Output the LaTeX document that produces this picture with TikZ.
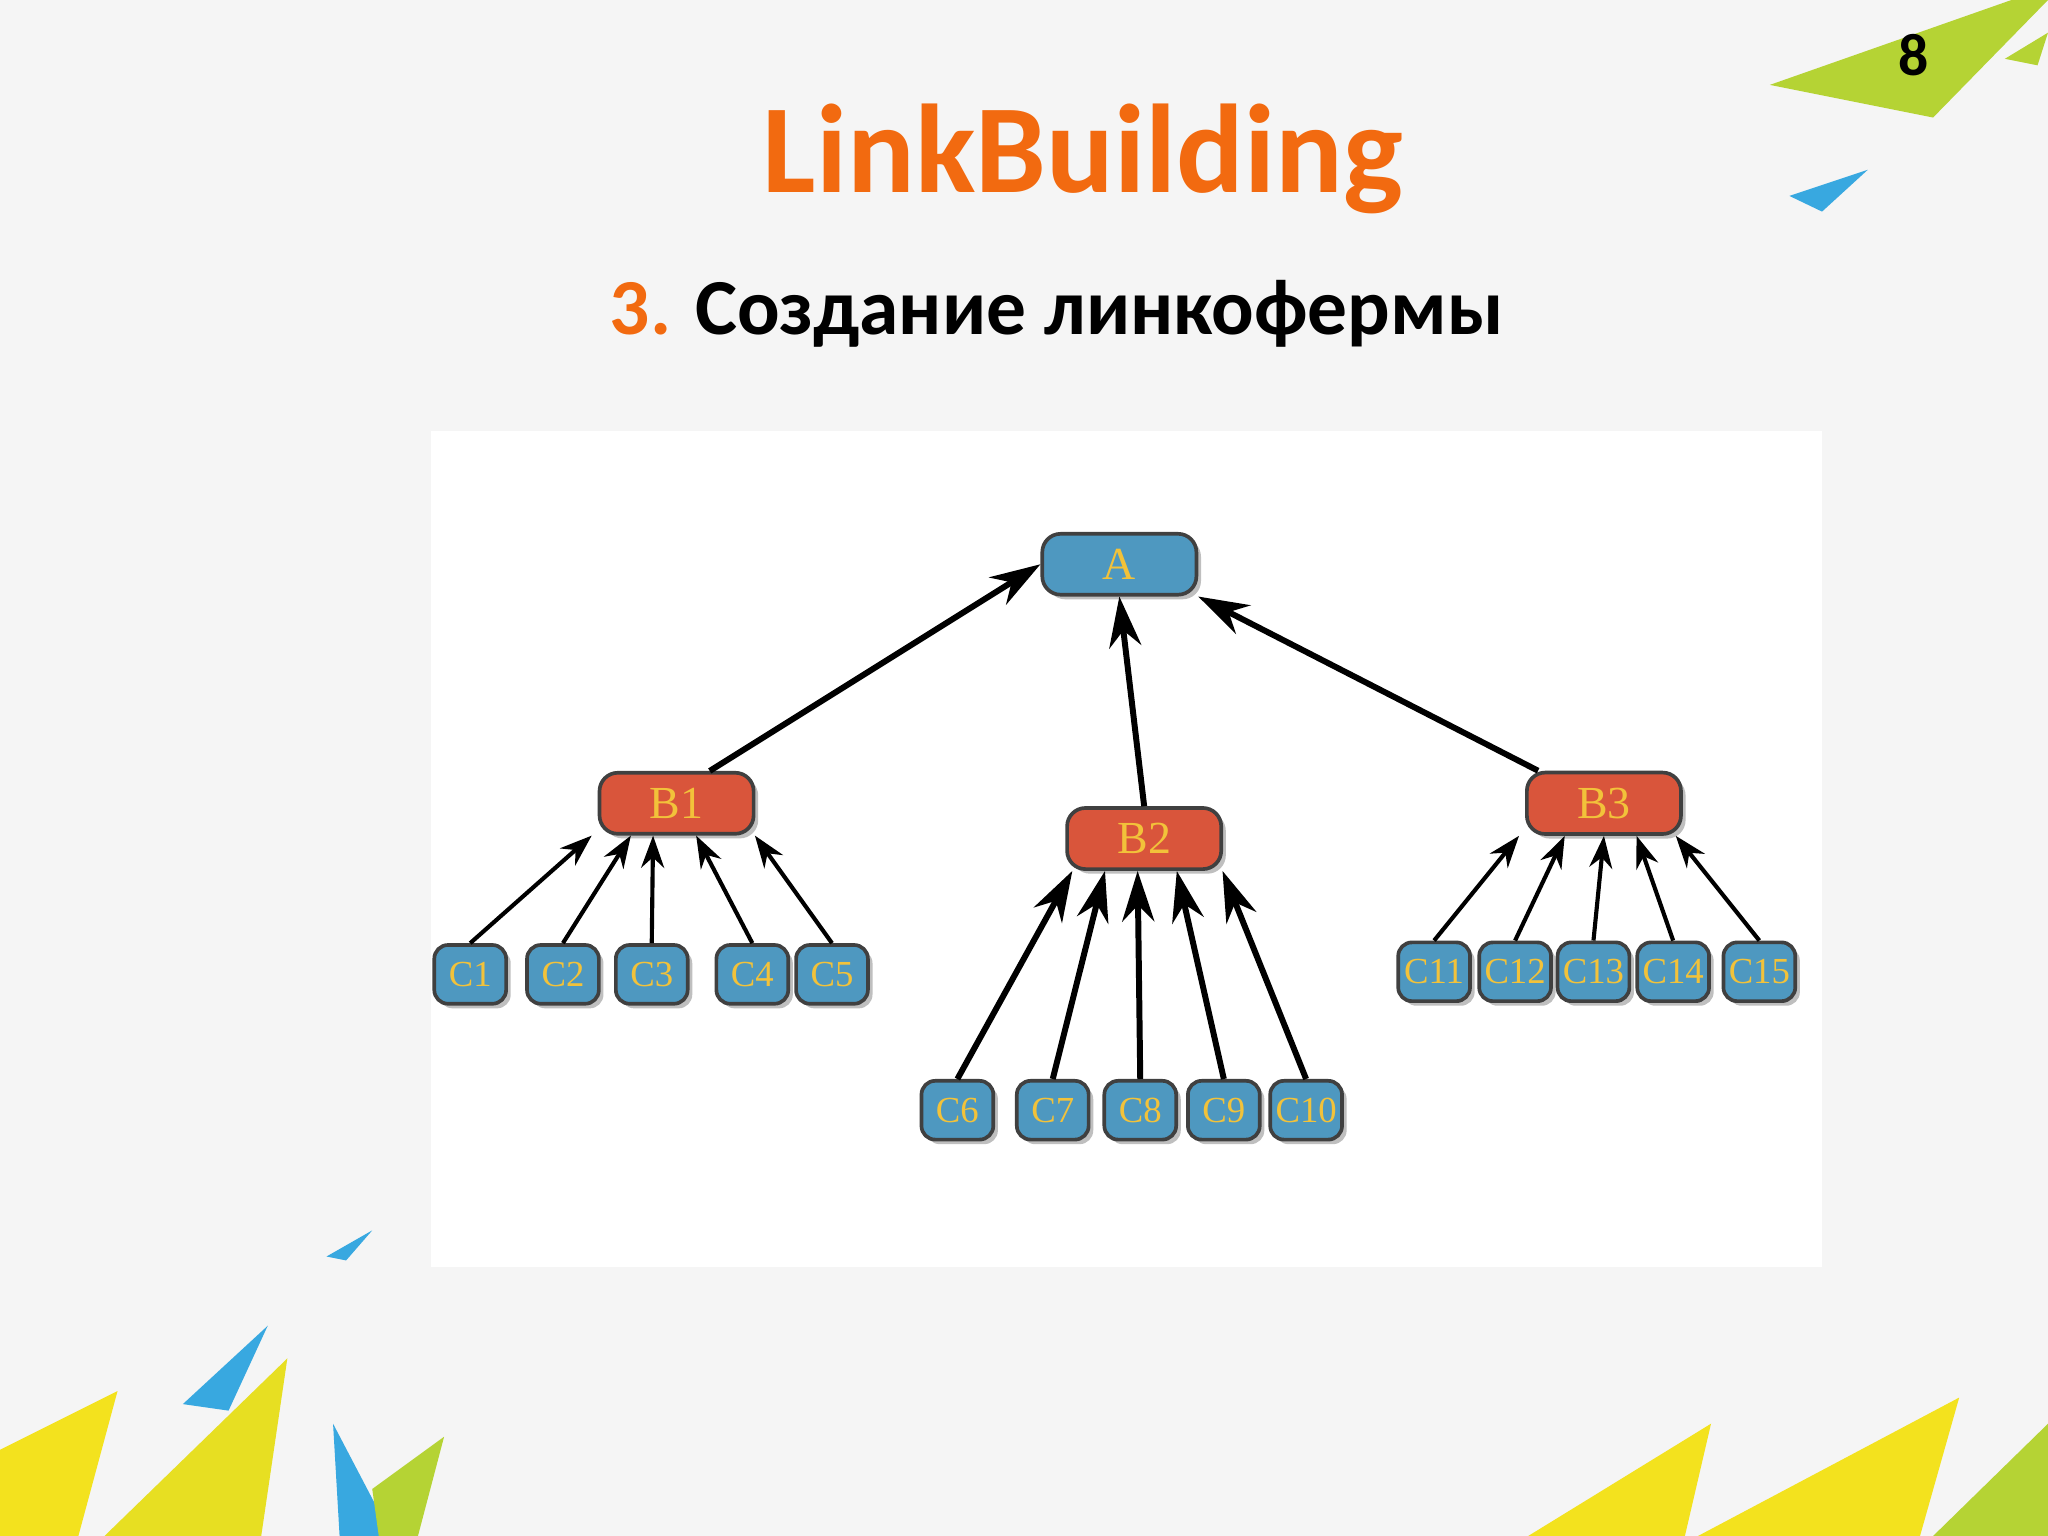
\documentclass[tikz,border=0pt]{standalone}
\usepackage{fontspec}
\setmainfont{Carlito}
\newfontfamily\serifx{Liberation Serif}
\usetikzlibrary{arrows.meta,shadows}
\definecolor{orng}{HTML}{F26A10}
\definecolor{nblue}{HTML}{4E98C0}
\definecolor{nred}{HTML}{D9553B}
\definecolor{ntext}{HTML}{F2C23A}
\definecolor{lime}{HTML}{B5D334}
\definecolor{sky}{HTML}{38A8E0}
\definecolor{yel}{HTML}{F3E21E}
\tikzset{
 nd/.style={draw=black!75,line width=0.8pt,rounded corners=4pt,font=\serifx\fontsize{10}{10}\selectfont,text=ntext,drop shadow={shadow xshift=1pt,shadow yshift=-1pt,opacity=.5}},
 anode/.style={nd,fill=nblue,minimum width=1.18cm,minimum height=0.44cm},
 bnode/.style={nd,fill=nred,minimum width=1.18cm,minimum height=0.42cm},
 cnode/.style={nd,fill=nblue,minimum width=0.55cm,minimum height=0.45cm,inner sep=0.5pt,rounded corners=3pt,font=\serifx\fontsize{8}{8}\selectfont},
 big/.style={-{Stealth[length=11pt,width=7pt]},line width=1.3pt},
 small/.style={-{Stealth[length=7pt,width=5pt]},line width=0.9pt},
}
\begin{document}
\begin{tikzpicture}[x=0.1mm,y=-0.1mm]
\useasboundingbox (0,0) rectangle (1568,1176);
\fill[black!4] (0,0) rectangle (1568,1176);
\fill[white] (330,330) rectangle (1395,970);
% decorations
\fill[lime] (1355,65) -- (1540,0) -- (1568,0) -- (1480,90) -- cycle;
\fill[lime] (1535,45) -- (1568,25) -- (1560,50) -- cycle;
\fill[sky] (1370,150) -- (1430,130) -- (1395,162) -- cycle;
\fill[sky] (250,962) -- (285,942) -- (265,965) -- cycle;
\fill[yel] (0,1110) -- (90,1065) -- (60,1176) -- (0,1176) -- cycle;
\fill[yel!80!lime] (80,1176) -- (220,1040) -- (200,1176) -- cycle;
\fill[sky] (140,1075) -- (205,1015) -- (175,1080) -- cycle;
\fill[sky] (255,1090) -- (300,1176) -- (260,1176) -- cycle;
\fill[lime] (285,1140) -- (340,1100) -- (320,1176) -- (290,1176) -- cycle;
\fill[yel] (1170,1176) -- (1310,1090) -- (1290,1176) -- cycle;
\fill[yel] (1300,1176) -- (1500,1070) -- (1470,1176) -- cycle;
\fill[lime] (1480,1176) -- (1568,1090) -- (1568,1176) -- cycle;
% texts
\node[font=\bfseries\fontsize{13}{13}\selectfont] (pg) at (1465,42) {8};
\node[text=orng,font=\bfseries\fontsize{27.5}{27.5}\selectfont] (title) at (829,122) {LinkBuilding};
\node[font=\bfseries\fontsize{17.3}{17.3}\selectfont] (sub) at (809,240) {\textcolor{orng}{3.} Создание линкофермы};
% nodes
\node[anode] (A) at (857,432) {A};
\node[bnode] (B1) at (518,615) {B1};
\node[bnode] (B2) at (876,642) {B2};
\node[bnode] (B3) at (1228,615) {B3};
\foreach \n/\x in {1/360,2/431,3/499,4/576,5/637}
  \node[cnode] (C\n) at (\x,746) {C\n};
\foreach \n/\x in {6/733,7/806,8/873,9/937,10/1000}
  \node[cnode] (C\n) at (\x,850) {C\n};
\foreach \n/\x in {11/1098,12/1160,13/1220,14/1281,15/1347}
  \node[cnode] (C\n) at (\x,744) {C\n};
% arrows
\draw[big] ([shift={(-35,0)}]B1.north east) -- (A.west);
\draw[big] (B2.north) -- (A.south);
\draw[big] ([shift={(10,0)}]B3.north west) -- (A.south east);
\foreach \n/\d in {1/-65,2/-35,3/-18,4/15,5/60}
  \draw[small] (C\n.north) -- ([shift={(\d,0)}]B1.south);
\foreach \n/\d in {6/-55,7/-30,8/-5,9/25,10/60}
  \draw[big] (C\n.north) -- ([shift={(\d,0)}]B2.south);
\foreach \n/\d in {11/-65,12/-30,13/0,14/25,15/55}
  \draw[small] (C\n.north) -- ([shift={(\d,0)}]B3.south);
\end{tikzpicture}
\end{document}
